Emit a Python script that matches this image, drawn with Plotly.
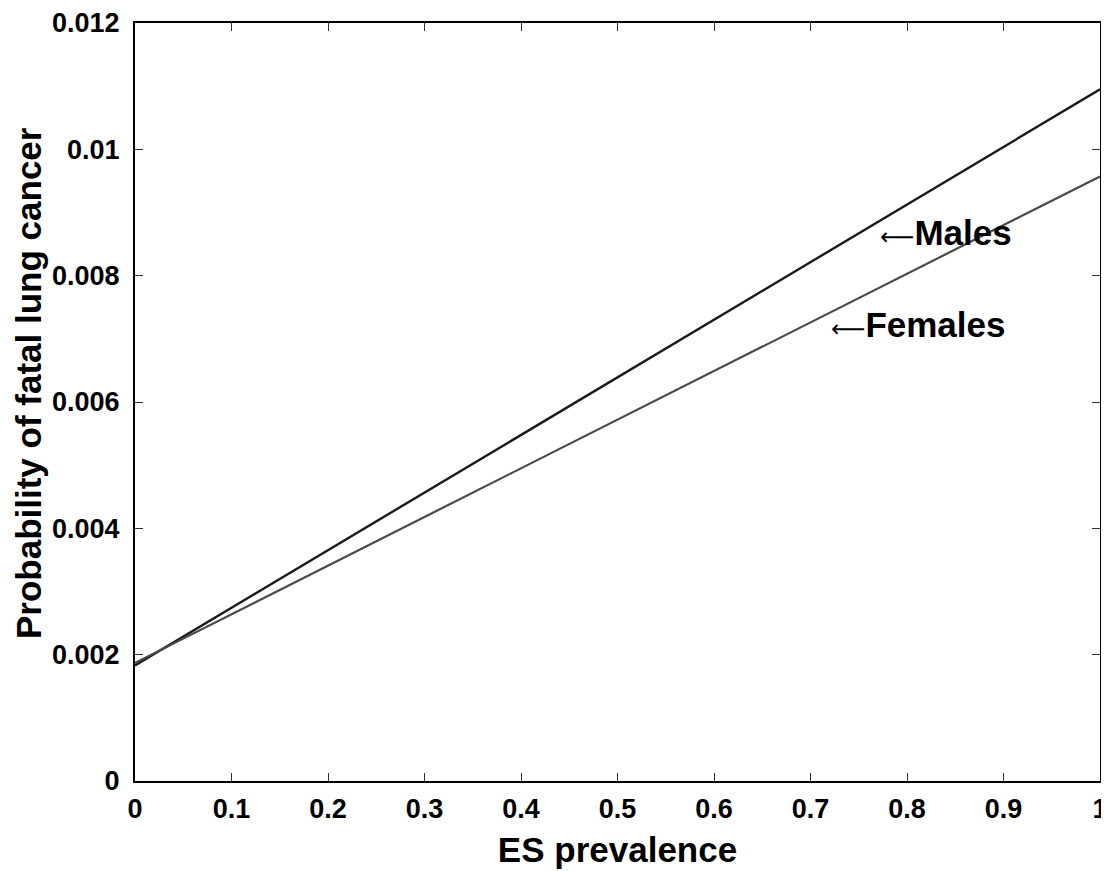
import plotly.graph_objects as go

prevalence = [0.0, 1.0]
males = [0.00183, 0.01095]
females = [0.00187, 0.00957]

x_ticks = [0, 0.1, 0.2, 0.3, 0.4, 0.5, 0.6, 0.7, 0.8, 0.9, 1]
x_labels = ["0", "0.1", "0.2", "0.3", "0.4", "0.5", "0.6", "0.7", "0.8", "0.9", "1"]
y_ticks = [0, 0.002, 0.004, 0.006, 0.008, 0.01, 0.012]
y_labels = ["0", "0.002", "0.004", "0.006", "0.008", "0.01", "0.012"]

labels = ["Males", "Females"]
label_x = [0.770, 0.719]
label_y = [0.00869, 0.00722]

FONT = "Liberation Sans, Arial, sans-serif"

fig = go.Figure()
fig.add_trace(go.Scatter(x=prevalence, y=males, mode="lines",
                         line=dict(color="#1a1a1a", width=2.4), name="Males"))
fig.add_trace(go.Scatter(x=prevalence, y=females, mode="lines",
                         line=dict(color="#4a4a4a", width=2.2), name="Females"))

for t, xx, yy in zip(labels, label_x, label_y):
    fig.add_annotation(x=xx, y=yy,
                       text="<span style='font-family:DejaVu Sans;font-weight:normal;font-size:24px'>⟵</span><b>" + t + "</b>",
                       showarrow=False, xanchor="left", yanchor="middle",
                       font=dict(family=FONT, size=35, color="black"))

# y-axis title placed as rotated annotation
fig.add_annotation(x=0, y=0.525, xref="paper", yref="paper",
                   text="<b>Probability of fatal lung cancer</b>", textangle=-90,
                   showarrow=False, xanchor="center", yanchor="middle", xshift=-107,
                   font=dict(family=FONT, size=35, color="black"))

axis_common = dict(showgrid=False, zeroline=False, showline=True, linecolor="black",
                   linewidth=2, mirror="ticks", ticks="inside", ticklen=8,
                   tickcolor="#333333", tickwidth=1, automargin=False,
                   tickfont=dict(family=FONT, size=27, color="black"))

fig.update_xaxes(range=[0, 1], tickvals=x_ticks,
                 ticktext=["<b>" + s + "</b>" for s in x_labels],
                 ticklabelstandoff=3,
                 title=dict(text="<b>ES prevalence</b>",
                            font=dict(family=FONT, size=35, color="black"), standoff=14),
                 **axis_common)
fig.update_yaxes(range=[0, 0.012], tickvals=y_ticks,
                 ticktext=["<b>" + s + "</b>" for s in y_labels],
                 ticklabelstandoff=8,
                 **axis_common)

fig.update_layout(width=1101, height=863, showlegend=False,
                  plot_bgcolor="white", paper_bgcolor="white",
                  margin=dict(l=127, r=9, t=15, b=90))

fig.write_html("out.html")
